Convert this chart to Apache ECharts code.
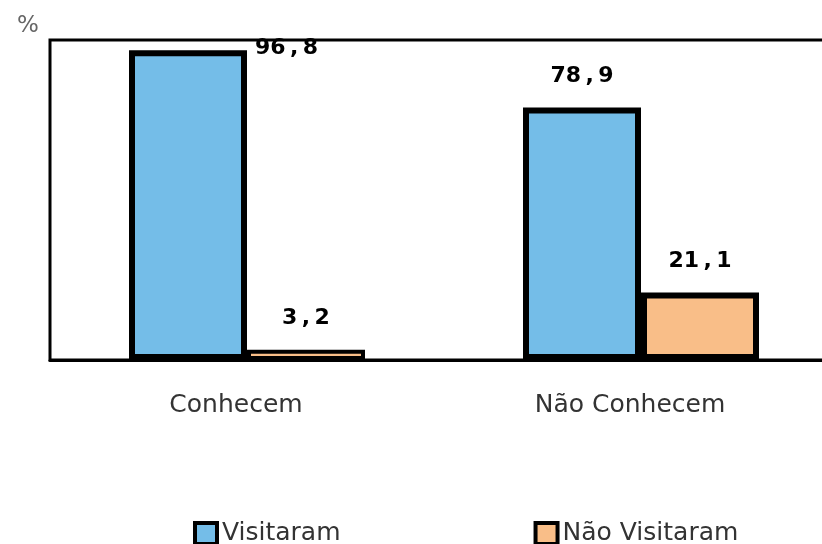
<!DOCTYPE html>
<html>
<head>
<meta charset="utf-8">
<script src="https://cdn.jsdelivr.net/npm/echarts@6/dist/echarts.min.js"></script>
<style>
  html, body { margin: 0; padding: 0; background: #fff; overflow: hidden; }
  /* the plot box runs past the right edge of the picture, so the canvas is wider than the window */
  #chart { width: 840px; height: 544px; }
</style>
</head>
<body>
<div id="chart"></div>
<script>
const categories = ['Conhecem', 'Não Conhecem']
const seriesNames = ['Visitaram', 'Não Visitaram']
const visitaram = [96.8, 78.9]
const naoVisitaram = [3.2, 21.1]
const unitLabel = '%'

const chart = echarts.init(document.getElementById('chart'))

// decimal comma, a bit spaced like the original
const fmt = (p) => String(p.value).replace('.', '\u2009,\u2009')

const labelStyle = {
  show: true,
  position: 'top',
  distance: 20,
  color: '#000',
  fontFamily: 'DejaVu Sans',
  fontWeight: 'bold',
  fontSize: 22,
  formatter: fmt
}

const barItem = (color) => ({
  color: color,
  borderColor: '#000',
  borderWidth: 6
})

// first blue bar reaches the top of the box, so its label sits to the right
const blueData = visitaram.map((v, i) => {
  if (i === 0) {
    return {
      value: v,
      label: { position: ['100%', 0], offset: [8, -2], align: 'left', verticalAlign: 'middle' }
    }
  }
  return v
})

// the tiny bar needs a thinner outline or it turns solid black
const orangeData = naoVisitaram.map((v) => v < 5 ? { value: v, itemStyle: { borderWidth: 4 } } : v)

chart.setOption({
  animation: false,
  title: {
    text: unitLabel,
    left: 12,
    top: 10,
    textStyle: { fontFamily: 'DejaVu Sans', fontSize: 23, fontWeight: 'normal', color: '#666' }
  },
  grid: {
    left: 50,
    top: 40,
    right: 2,
    height: 320,
    show: true,
    borderColor: '#000',
    borderWidth: 3,
    containLabel: false
  },
  legend: {
    data: seriesNames,
    left: 193,
    top: 521,
    padding: 0,
    itemWidth: 22,
    itemHeight: 21,
    itemGap: 193,
    icon: 'rect',
    itemStyle: { borderColor: '#000', borderWidth: 4 },
    textStyle: { fontFamily: 'DejaVu Sans', fontSize: 25, color: '#333' }
  },
  xAxis: {
    type: 'category',
    data: categories,
    axisLine: { show: true, lineStyle: { color: '#000', width: 3 } },
    axisTick: { show: false },
    axisLabel: {
      margin: 33,
      color: '#333',
      fontFamily: 'DejaVu Sans',
      fontSize: 25,
      padding: [0, 22, 0, 0]
    }
  },
  yAxis: {
    type: 'value',
    min: 0,
    max: 100,
    axisLine: { show: false },
    axisTick: { show: false },
    axisLabel: { show: false },
    splitLine: { show: false }
  },
  series: [
    {
      name: seriesNames[0],
      type: 'bar',
      data: blueData,
      barWidth: 118,
      barGap: '0%',
      itemStyle: barItem('#74BDE8'),
      label: labelStyle
    },
    {
      name: seriesNames[1],
      type: 'bar',
      data: orangeData,
      barWidth: 118,
      itemStyle: barItem('#F9BE88'),
      label: labelStyle
    }
  ]
})
</script>
</body>
</html>
